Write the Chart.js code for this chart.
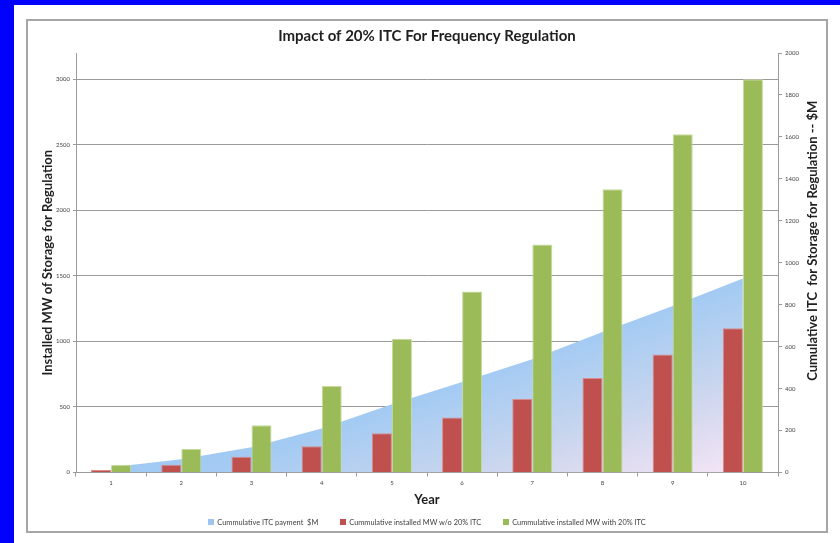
<!DOCTYPE html>
<html>
<head>
<meta charset="utf-8">
<title>Impact of 20% ITC For Frequency Regulation</title>
<script src="https://cdn.jsdelivr.net/npm/chart.js@4.4.1/dist/chart.umd.min.js"></script>
<style>
  body { margin: 0; background: #0000ff; width: 840px; height: 543px; overflow: hidden; font-family: Lato, "Open Sans", sans-serif; }
  #sheet { position: absolute; left: 14px; top: 5px; width: 826px; height: 538px; background: #fff; }
  #frame { position: absolute; left: 12px; top: 14px; width: 798px; height: 510px; border: 2px solid #a6a6a6; }
  #chart-wrap { position: absolute; left: 0; top: 0; width: 798px; height: 510px; }
  #legend { position: absolute; left: 0; right: 0; top: 495px; height: 12px; display: flex; justify-content: center; align-items: center; font-size: 7.4px; color: #404040; }
  #legend span.item { display: flex; align-items: center; margin: 0 11px; white-space: pre; }
  #legend span.box { display: inline-block; width: 6px; height: 6px; margin-right: 3px; }
</style>
</head>
<body>
<div id="sheet">
  <div id="frame">
    <div id="chart-wrap"><canvas id="itc-chart"></canvas></div>
    <div id="legend"></div>
  </div>
</div>
<script>
// Data
const years = ["1", "2", "3", "4", "5", "6", "7", "8", "9", "10"];
const itcPayment = [25, 63, 120, 210, 325, 432, 540, 670, 794, 925];        // $M, right axis
const mwWithoutItc = [20, 60, 120, 200, 300, 420, 560, 720, 900, 1100];     // MW, left axis
const mwWithItc = [60, 180, 360, 660, 1020, 1380, 1740, 2160, 2580, 3000];  // MW, left axis

const seriesLabels = [
  "Cummulative ITC payment  $M",
  "Cummulative installed MW w/o 20% ITC",
  "Cummulative installed MW with 20% ITC"
];

// Axis ticks
const leftTicks = [0, 500, 1000, 1500, 2000, 2500, 3000];
const rightTicks = [0, 200, 400, 600, 800, 1000, 1200, 1400, 1600, 1800, 2000];
const leftMax = 3200;
const rightMax = 2000;

const axisColor = "#9a9a9a";
const tickFont = { family: "Lato", size: 6 };

// Blue to pink diagonal fill like the Excel area
function areaGradient(ctx, area) {
  const w = area.right - area.left;
  const h = area.bottom - area.top;
  const g = ctx.createLinearGradient(
    area.left + 0.177 * w, area.top + 0.734 * h,
    area.left + 0.319 * w, area.top + 1.402 * h
  );
  g.addColorStop(0, "#9cc8f5");
  g.addColorStop(0.35, "#a2caf3");
  g.addColorStop(0.64, "#c7d5ee");
  g.addColorStop(0.8, "#dfdcf1");
  g.addColorStop(1, "#f9e8f8");
  return g;
}

// Right axis title reads bottom-to-top, so draw it here
const rightTitle = {
  id: "rightTitle",
  afterDraw(chart) {
    const { ctx, chartArea } = chart;
    const x = chart.scales.y1.right - 13;
    const y = (chartArea.top + chartArea.bottom) / 2 - 22;
    ctx.save();
    ctx.translate(x, y);
    ctx.rotate(-Math.PI / 2);
    ctx.font = "bold 13px Lato";
    ctx.fillStyle = "#1f1f1f";
    ctx.textAlign = "center";
    ctx.textBaseline = "middle";
    ctx.fillText("Cumulative ITC  for Storage for Regulation -- $M", 0, 0);
    ctx.restore();
  }
};

const ctx = document.getElementById("itc-chart").getContext("2d");
const itcChart = new Chart(ctx, {
  type: "bar",
  data: {
    labels: years,
    datasets: [
      {
        type: "line",
        label: seriesLabels[0],
        data: itcPayment,
        yAxisID: "y1",
        fill: "origin",
        tension: 0,
        pointRadius: 0,
        borderWidth: 0,
        borderColor: "transparent",
        backgroundColor: (c) => {
          const area = c.chart.chartArea;
          if (!area) return "#9cc8f5";
          return areaGradient(c.chart.ctx, area);
        },
        order: 2
      },
      {
        label: seriesLabels[1],
        data: mwWithoutItc,
        yAxisID: "y",
        backgroundColor: "#c0504d",
        borderColor: "#d98b89",
        borderWidth: 1,
        barPercentage: 1,
        categoryPercentage: 0.571,
        order: 1
      },
      {
        label: seriesLabels[2],
        data: mwWithItc,
        yAxisID: "y",
        backgroundColor: "#9bbb59",
        borderColor: "#c6da9e",
        borderWidth: 1,
        barPercentage: 1,
        categoryPercentage: 0.571,
        order: 1
      }
    ]
  },
  options: {
    responsive: true,
    maintainAspectRatio: false,
    animation: false,
    layout: { padding: { left: 0, right: 0, top: 0, bottom: 22 } },
    plugins: {
      legend: { display: false },
      tooltip: { enabled: false },
      title: {
        display: true,
        text: "Impact of 20% ITC For Frequency Regulation",
        color: "#1f1f1f",
        font: { family: "Lato", size: 15, weight: "bold", lineHeight: 1.2 },
        padding: { top: 6, bottom: 8 }
      }
    },
    scales: {
      x: {
        offset: true,
        grid: { display: true, drawOnChartArea: false, offset: true, color: axisColor, tickLength: 4 },
        border: { display: true, color: axisColor, width: 1 },
        ticks: { color: "#404040", font: tickFont, padding: 3, maxRotation: 0 },
        title: {
          display: true,
          text: "Year",
          color: "#1f1f1f",
          font: { family: "Lato", size: 13, weight: "bold", lineHeight: 1.2 },
          padding: { top: 0, bottom: 1 }
        },
        afterFit(scale) { scale.height = 36.5; }
      },
      y: {
        position: "left",
        min: 0,
        max: leftMax,
        grid: { color: axisColor, tickLength: 3 },
        border: { display: true, color: axisColor, width: 1 },
        ticks: { color: "#404040", font: tickFont, padding: 3, callback: (v) => String(v) },
        afterBuildTicks(scale) { scale.ticks = leftTicks.map(v => ({ value: v })); },
        title: {
          display: true,
          text: "Installed MW of Storage for Regulation",
          color: "#1f1f1f",
          font: { family: "Lato", size: 13, weight: "bold", lineHeight: 1.2 },
          padding: { top: 12, bottom: 0 }
        },
        afterFit(scale) { scale.width = 48; }
      },
      y1: {
        position: "right",
        min: 0,
        max: rightMax,
        grid: { drawOnChartArea: false, color: axisColor, tickLength: 4 },
        border: { display: true, color: axisColor, width: 1 },
        ticks: { color: "#404040", font: tickFont, padding: 3, callback: (v) => String(v) },
        afterBuildTicks(scale) { scale.ticks = rightTicks.map(v => ({ value: v })); },
        afterFit(scale) { scale.width = 48; }
      }
    }
  },
  plugins: [rightTitle]
});

// HTML legend
const legendBox = document.getElementById("legend");
const legendColors = ["#9dc5f0", "#c0504d", "#9bbb59"];
seriesLabels.forEach((text, i) => {
  const item = document.createElement("span");
  item.className = "item";
  item.innerHTML = `<span class="box" style="background:${legendColors[i]}"></span>${text}`;
  legendBox.appendChild(item);
});
</script>
</body>
</html>
